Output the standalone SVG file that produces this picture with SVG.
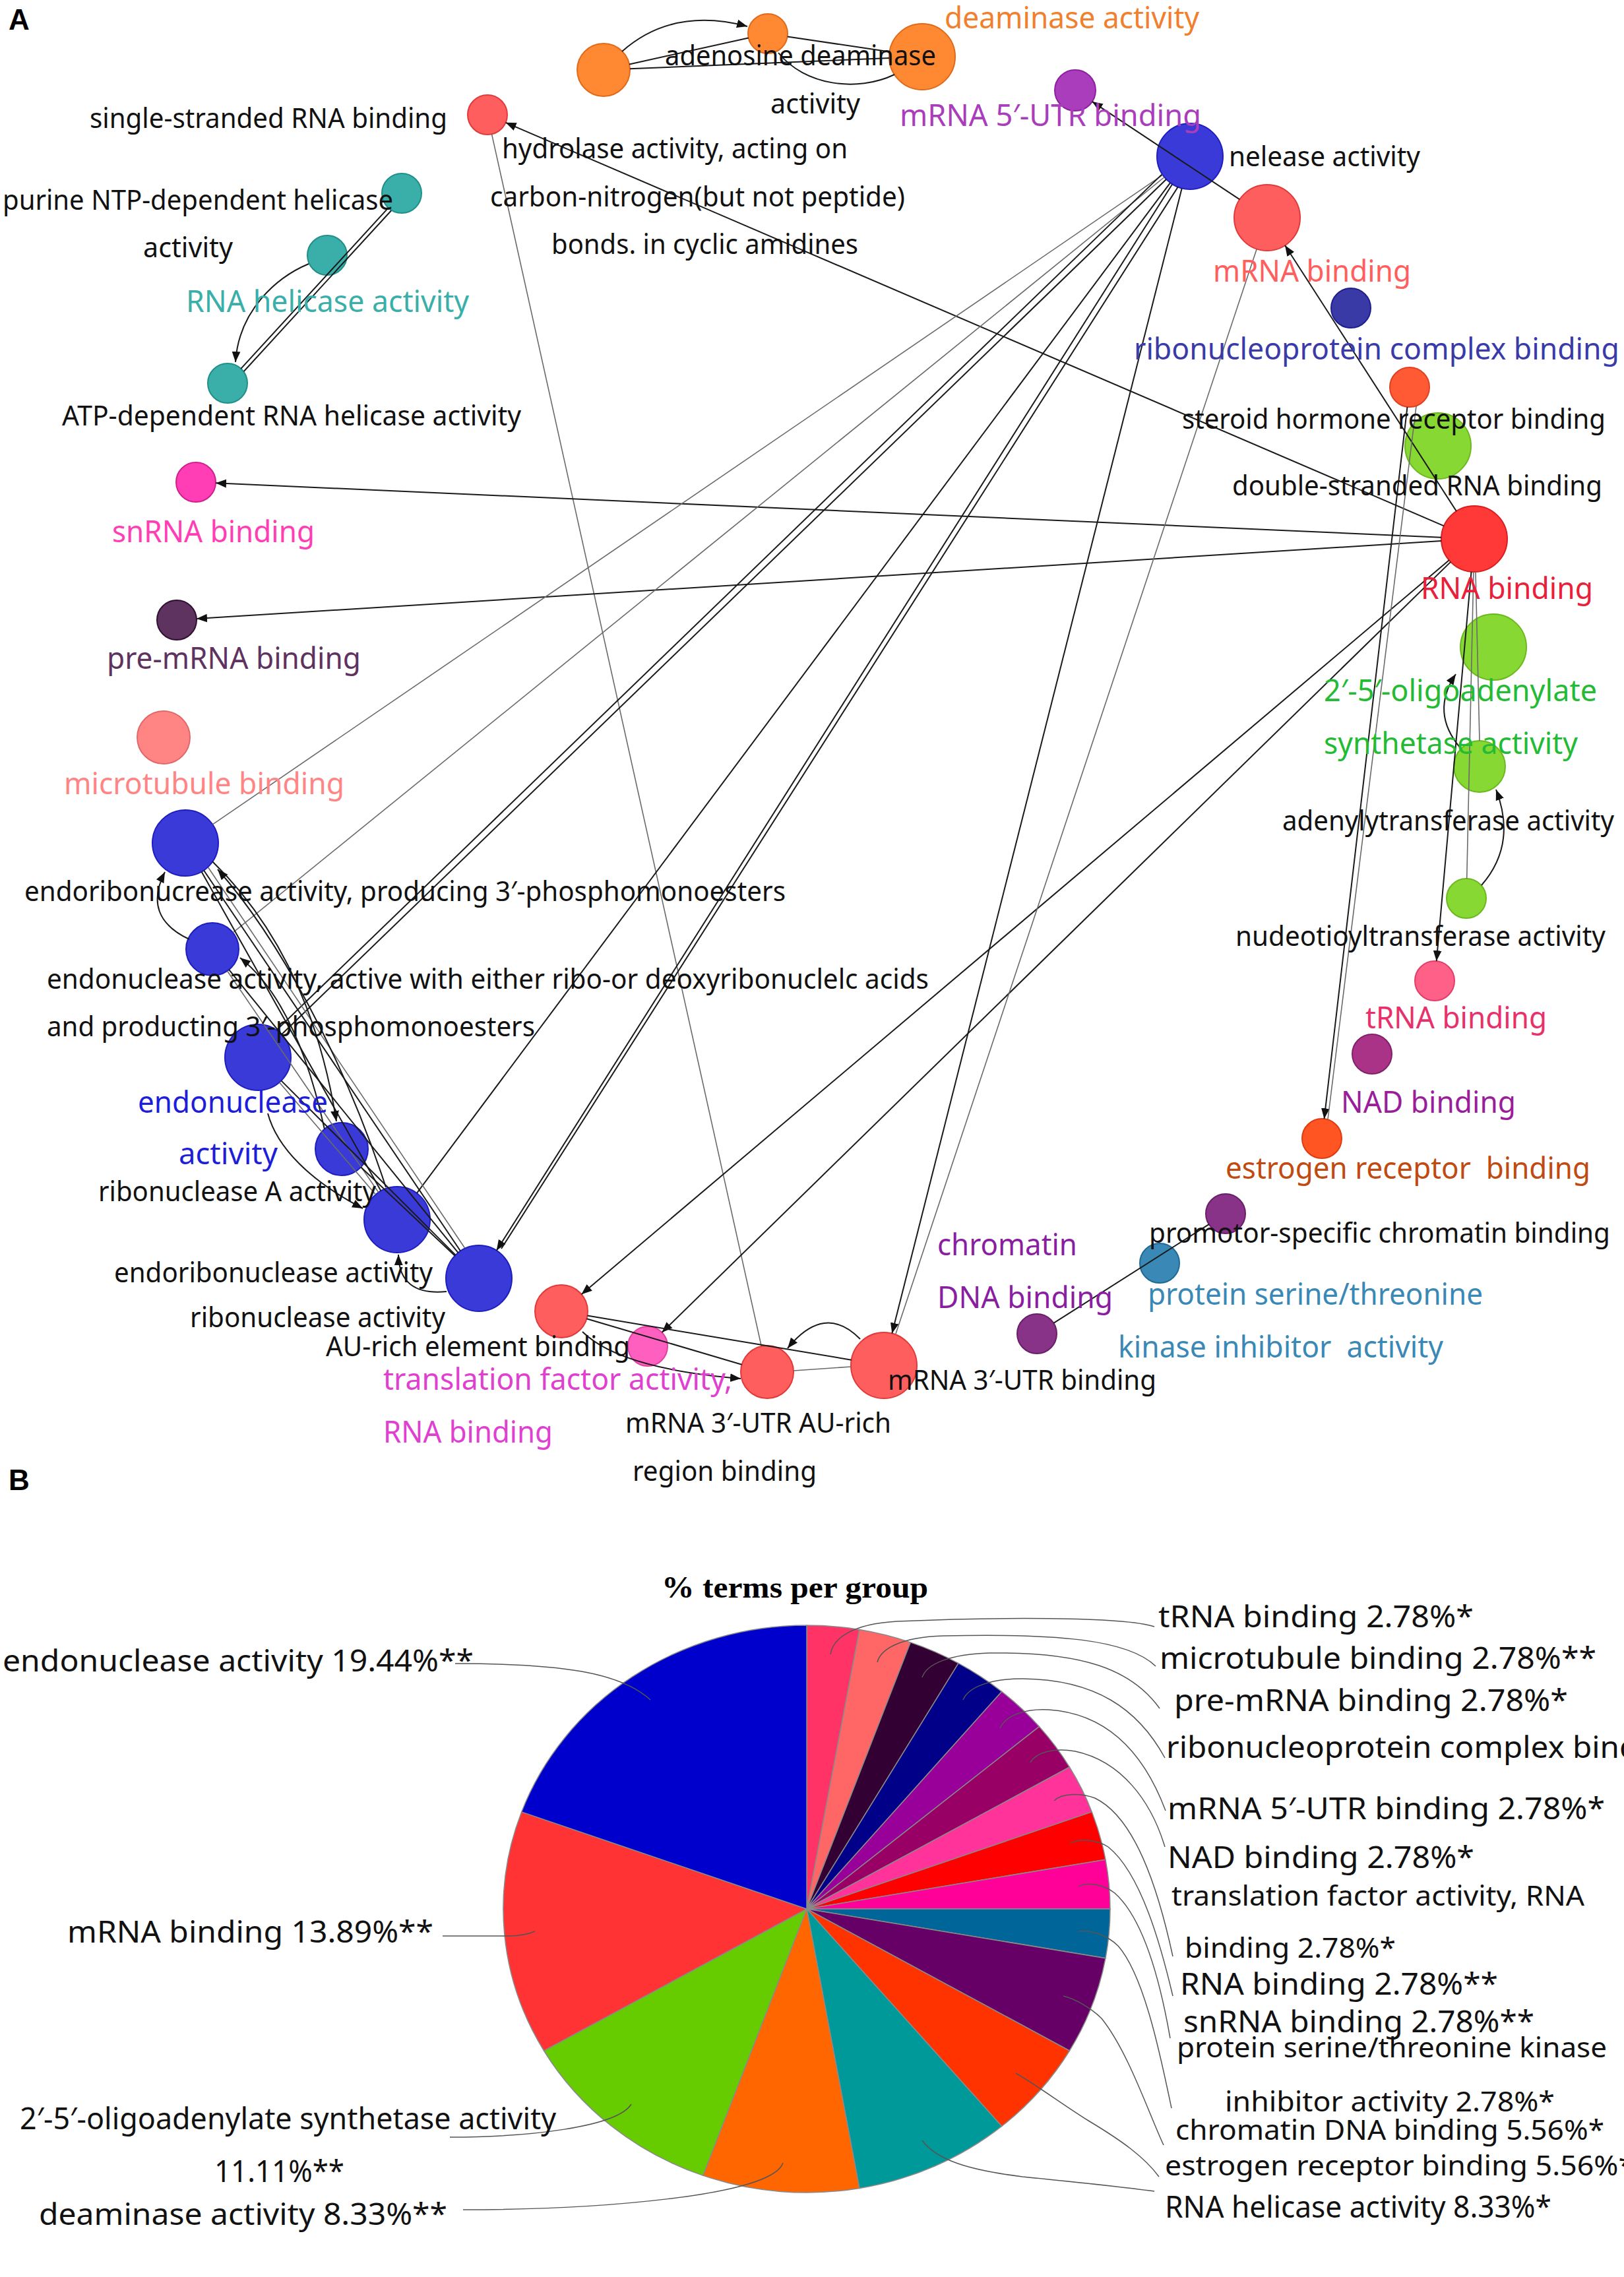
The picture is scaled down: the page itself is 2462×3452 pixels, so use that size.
<svg xmlns="http://www.w3.org/2000/svg" width="2462" height="3452" viewBox="0 0 2462 3452">
<style>
text{font-family:"Noto Sans","Open Sans","Liberation Sans",sans-serif}
.lb{font-size:41px;fill:#111}
.cl{font-size:45px}
.pl{font-size:46px;fill:#111}
.ps{font-size:42px;fill:#111}
.hd{font-family:"Liberation Sans",Arial,sans-serif;font-weight:bold;font-size:44px;fill:#000}
.tt{font-family:"Liberation Serif","Times New Roman",serif;font-weight:bold;font-size:46px;fill:#000}
.e{stroke:#1a1a1a;stroke-width:2;fill:none}
.t{stroke:#6a6a6a;stroke-width:1.6;fill:none}
.ld{stroke:#555;stroke-width:1.5;fill:none}
.sl{stroke:#8a8a8a;stroke-width:1.5}
circle{stroke-width:2}
.red{fill:#FF5E5E;stroke:#E03A3A}
.teal{fill:#3AAFA9;stroke:#1F8F88}
.org{fill:#FF8833;stroke:#E06A1A}
.blu{fill:#3A3AD8;stroke:#1E1EC0}
.grn{fill:#88D833;stroke:#6CB820}
</style>
<defs>
<marker id="ah" viewBox="0 0 10 10" refX="10" refY="5" markerWidth="16" markerHeight="16" markerUnits="userSpaceOnUse" orient="auto"><path d="M0,1 L10,5 L0,9 z" fill="#111"/></marker>
</defs>
<rect width="2462" height="3452" fill="#fff"/>
<text class="hd" x="13" y="45">A</text>
<text class="hd" x="13" y="2259">B</text>

<g id="nodes">
<g id="n-ss"><circle class="red" cx="739" cy="174" r="30"/></g>
<g id="n-purine"><circle class="teal" cx="609" cy="293" r="30"/></g>
<g id="n-helicase"><circle class="teal" cx="496" cy="387" r="30"/></g>
<g id="n-atp"><circle class="teal" cx="345" cy="581" r="30"/></g>
<g id="n-snrna"><circle cx="297" cy="731" r="30" fill="#FF3DB4" stroke="#D0208E"/></g>
<g id="n-premrna"><circle cx="268" cy="940" r="30" fill="#5E3360" stroke="#301030"/></g>
<g id="n-microtubule"><circle cx="248" cy="1118" r="40" fill="#FF8585" stroke="#E06868"/></g>
<g id="n-adL"><circle class="org" cx="915" cy="106" r="40"/></g>
<g id="n-adS"><circle class="org" cx="1164" cy="51" r="30"/></g>
<g id="n-adR"><circle class="org" cx="1398" cy="86" r="50"/></g>
<g id="n-5utr"><circle cx="1630" cy="137" r="31" fill="#AA3DBB" stroke="#8E1FA0"/></g>
<g id="n-nuclease"><circle class="blu" cx="1804" cy="237" r="50"/></g>
<g id="n-mrna"><circle class="red" cx="1921" cy="330" r="50"/></g>
<g id="n-rnp"><circle cx="2048" cy="467" r="30" fill="#3A3AA6" stroke="#1E1E90"/></g>
<g id="n-steroid"><circle cx="2137" cy="587" r="30" fill="#FF5A33" stroke="#E04020"/></g>
<g id="n-dsrna"><circle class="grn" cx="2180" cy="676" r="50"/></g>
<g id="n-rna"><circle cx="2235" cy="817" r="50" fill="#FF3838" stroke="#D81E1E"/></g>
<g id="n-oas"><circle class="grn" cx="2264" cy="981" r="50"/></g>
<g id="n-adenylyl"><circle class="grn" cx="2243" cy="1162" r="39"/></g>
<g id="n-nucleotidyl"><circle class="grn" cx="2223" cy="1362" r="30"/></g>
<g id="n-trna"><circle cx="2175" cy="1487" r="30" fill="#FF6088" stroke="#E04068"/></g>
<g id="n-nad"><circle cx="2080" cy="1598" r="30" fill="#AA3388" stroke="#80206A"/></g>
<g id="n-estrogen"><circle cx="2004" cy="1726" r="30" fill="#FF5522" stroke="#E03A10"/></g>
<g id="n-promotor"><circle cx="1858" cy="1840" r="30" fill="#883388" stroke="#6A1E6A"/></g>
<g id="n-pserine"><circle cx="1758" cy="1915" r="30" fill="#3A88B5" stroke="#1E6A95"/></g>
<g id="n-chromatin"><circle cx="1572" cy="2022" r="30" fill="#883388" stroke="#6A1E6A"/></g>
<g id="n-endoribo3"><circle class="blu" cx="281" cy="1278" r="50"/></g>
<g id="n-endonuc-active"><circle class="blu" cx="322" cy="1439" r="40"/></g>
<g id="n-endonuclease"><circle class="blu" cx="391" cy="1603" r="50"/></g>
<g id="n-ribA"><circle class="blu" cx="518" cy="1742" r="40"/></g>
<g id="n-endoribo"><circle class="blu" cx="602" cy="1849" r="50"/></g>
<g id="n-ribonuclease"><circle class="blu" cx="726" cy="1938" r="50"/></g>
<g id="n-aurich"><circle class="red" cx="851" cy="1988" r="40"/></g>
<g id="n-translation"><circle cx="982" cy="2041" r="30" fill="#FF60C0" stroke="#E040A0"/></g>
<g id="n-3utr-au"><circle class="red" cx="1163" cy="2080" r="40"/></g>
<g id="n-3utr"><circle class="red" cx="1340" cy="2070" r="50"/></g>
</g>

<g id="connectors">
<path class="e" d="M588.7,315.1 L365.3,558.9"/>
<path class="e" d="M593.1,319.2 L369.7,563"/>
<path class="e" d="M468,400 C420,420 362,470 357,549" marker-end="url(#ah)"/>
<path class="e" d="M954,97.4 L1134.7,57.5"/>
<path class="e" d="M943,78 Q1020,10 1133,40" marker-end="url(#ah)"/>
<path class="e" d="M955,104.3 L1348,88.1"/>
<path class="e" d="M1193.7,55.4 L1348.6,78.6"/>
<path class="e" d="M1356,113 C1300,140 1220,130 1180,80"/>
<path class="t" d="M745.5,203.3 L1154.3,2041"/>
<path class="e" d="M2189.1,797.3 L766.6,185.8" marker-end="url(#ah)"/>
<path class="e" d="M2185,814.8 L327,732.3" marker-end="url(#ah)"/>
<path class="e" d="M2185.1,820.1 L298,938.1" marker-end="url(#ah)"/>
<path class="e" d="M2207.9,775 L1948.1,372" marker-end="url(#ah)"/>
<path class="e" d="M1879.3,302.4 L1655.8,154.1" marker-end="url(#ah)"/>
<path class="e" d="M2196.8,849.3 L881.5,1962.2" marker-end="url(#ah)"/>
<path class="e" d="M2199.2,851.9 L1003.5,2020" marker-end="url(#ah)"/>
<path class="e" d="M1791.7,285.5 L1352.3,2021.5" marker-end="url(#ah)"/>
<path class="t" d="M1905.2,377.4 L1358,2022"/>
<path class="e" d="M2133.5,616.8 L2007.5,1696.2" marker-end="url(#ah)"/>
<path class="t" d="M2147,616 L2013,1697"/>
<path class="e" d="M2230.5,866.8 L2177.7,1457.1" marker-end="url(#ah)"/>
<path class="t" d="M2237,867 L2243,1123"/>
<path class="t" d="M2223.7,1332 L2233.9,867"/>
<path class="e" d="M2214,1134 Q2168,1080 2207,1022" marker-end="url(#ah)"/>
<path class="e" d="M2246,1342 Q2300,1280 2268,1197" marker-end="url(#ah)"/>
<path class="e" d="M1597.3,2005.9 L1832.7,1856.1"/>
<path class="t" d="M1762.7,265.2 L322.3,1249.8"/>
<path class="t" d="M1765.2,268.5 L353.1,1413.8"/>
<path class="e" d="M1774.1,277.1 L631.9,1808.9"/>
<path class="e" d="M1777.2,279.2 L752.8,1895.8" marker-end="url(#ah)"/>
<path class="e" d="M1786,283 L760,1893"/>
<path class="e" d="M1768.1,271.8 L426.9,1568.3"/>
<path class="e" d="M1761.2,264.6 L420,1561"/>
<path class="e" d="M309,1319.5 L698,1896.5"/>
<path class="t" d="M315.6,1315 L704.6,1892"/>
<path class="e" d="M305.5,1321.6 L577.5,1805.4"/>
<path class="e" d="M347.2,1470.1 L694.5,1899.1"/>
<path class="t" d="M344.6,1472 L573.8,1807.7"/>
<path class="e" d="M426.4,1638.4 L690.6,1902.6"/>
<path class="t" d="M423.6,1641 L569.5,1811"/>
<path class="e" d="M547.1,1769.4 L689.6,1903.7"/>
<path class="e" d="M287,1424 Q215,1390 250,1322" marker-end="url(#ah)"/>
<path class="e" d="M322,1306 Q470,1450 510,1700" marker-end="url(#ah)"/>
<path class="e" d="M492,1712 Q450,1520 364,1452" marker-end="url(#ah)"/>
<path class="e" d="M406,1688 C420,1740 470,1790 550,1832" marker-end="url(#ah)"/>
<path class="e" d="M677,1958 Q605,1965 604,1902" marker-end="url(#ah)"/>
<path class="e" d="M585,1800 C520,1600 420,1420 330,1318" marker-end="url(#ah)"/>
<path class="e" d="M890.5,1994.6 L1290.7,2061.7"/>
<path class="e" d="M889.4,1999.3 L1124.6,2068.7"/>
<path class="e" d="M883,2019 Q940,2075 1123,2090" marker-end="url(#ah)"/>
<path class="t" d="M1203,2078 L1290,2072"/>
<path class="e" d="M1304,2030 Q1250,1975 1194,2044" marker-end="url(#ah)"/>
</g>

<g id="labels">
<text class="lb" x="136" y="194" textLength="542" lengthAdjust="spacingAndGlyphs">single-stranded RNA binding</text>
<text class="lb" x="4" y="318" textLength="592" lengthAdjust="spacingAndGlyphs">purine NTP-dependent helicase</text>
<text class="lb" x="217" y="390" textLength="136" lengthAdjust="spacingAndGlyphs">activity</text>
<text class="cl" fill="#3AAFA9" x="282" y="473" textLength="429" lengthAdjust="spacingAndGlyphs">RNA helicase activity</text>
<text class="lb" x="94" y="645" textLength="696" lengthAdjust="spacingAndGlyphs">ATP-dependent RNA helicase activity</text>
<text class="cl" fill="#FF3DB4" x="170" y="822" textLength="307" lengthAdjust="spacingAndGlyphs">snRNA binding</text>
<text class="cl" fill="#5E3360" x="162" y="1014" textLength="385" lengthAdjust="spacingAndGlyphs">pre-mRNA binding</text>
<text class="cl" fill="#FF8585" x="97" y="1204" textLength="425" lengthAdjust="spacingAndGlyphs">microtubule binding</text>
<text class="lb" x="1008" y="99" textLength="411" lengthAdjust="spacingAndGlyphs">adenosine deaminase</text>
<text class="lb" x="1168" y="172" textLength="136" lengthAdjust="spacingAndGlyphs">activity</text>
<text class="cl" fill="#F0802E" x="1432" y="43" textLength="386" lengthAdjust="spacingAndGlyphs">deaminase activity</text>
<text class="lb" x="761" y="240" textLength="524" lengthAdjust="spacingAndGlyphs">hydrolase activity, acting on</text>
<text class="lb" x="743" y="313" textLength="629" lengthAdjust="spacingAndGlyphs">carbon-nitrogen(but not peptide)</text>
<text class="lb" x="836" y="385" textLength="465" lengthAdjust="spacingAndGlyphs">bonds. in cyclic amidines</text>
<text class="cl" fill="#AA3DBB" x="1364" y="191" textLength="457" lengthAdjust="spacingAndGlyphs">mRNA 5′-UTR binding</text>
<text class="lb" x="1863" y="252" textLength="290" lengthAdjust="spacingAndGlyphs">nelease activity</text>
<text class="cl" fill="#FF5E5E" x="1839" y="427" textLength="300" lengthAdjust="spacingAndGlyphs">mRNA binding</text>
<text class="cl" fill="#3A3AA8" x="1719" y="545" textLength="736" lengthAdjust="spacingAndGlyphs">ribonucleoprotein complex binding</text>
<text class="lb" x="1792" y="650" textLength="642" lengthAdjust="spacingAndGlyphs">steroid hormone receptor binding</text>
<text class="lb" x="1868" y="751" textLength="561" lengthAdjust="spacingAndGlyphs">double-stranded RNA binding</text>
<text class="cl" fill="#E8203A" x="2154" y="908" textLength="261" lengthAdjust="spacingAndGlyphs">RNA binding</text>
<text class="cl" fill="#22BB33" x="2007" y="1063" textLength="414" lengthAdjust="spacingAndGlyphs">2′-5′-oligoadenylate</text>
<text class="cl" fill="#22BB33" x="2007" y="1143" textLength="385" lengthAdjust="spacingAndGlyphs">synthetase activity</text>
<text class="lb" x="1944" y="1259" textLength="503" lengthAdjust="spacingAndGlyphs">adenylytransferase activity</text>
<text class="lb" x="1873" y="1434" textLength="561" lengthAdjust="spacingAndGlyphs">nudeotioyltransferase activity</text>
<text class="cl" fill="#E8306A" x="2070" y="1559" textLength="275" lengthAdjust="spacingAndGlyphs">tRNA binding</text>
<text class="cl" fill="#9A1E9A" x="2033" y="1687" textLength="265" lengthAdjust="spacingAndGlyphs">NAD binding</text>
<text class="cl" fill="#C04A10" x="1858" y="1787" textLength="553" lengthAdjust="spacingAndGlyphs">estrogen receptor&#160; binding</text>
<text class="lb" x="1742" y="1884" textLength="699" lengthAdjust="spacingAndGlyphs">promotor-specific chromatin binding</text>
<text class="cl" fill="#3A88B5" x="1740" y="1978" textLength="508" lengthAdjust="spacingAndGlyphs">protein serine/threonine</text>
<text class="cl" fill="#3A88B5" x="1695" y="2058" textLength="493" lengthAdjust="spacingAndGlyphs">kinase inhibitor&#160; activity</text>
<text class="cl" fill="#8A1EA0" x="1421" y="1903" textLength="212" lengthAdjust="spacingAndGlyphs">chromatin</text>
<text class="cl" fill="#8A1EA0" x="1421" y="1983" textLength="266" lengthAdjust="spacingAndGlyphs">DNA binding</text>
<text class="lb" x="37" y="1366" textLength="1154" lengthAdjust="spacingAndGlyphs">endoribonucrease activity, producing 3′-phosphomonoesters</text>
<text class="lb" x="71" y="1499" textLength="1337" lengthAdjust="spacingAndGlyphs">endonuclease activity, active with either ribo-or deoxyribonuclelc acids</text>
<text class="lb" x="71" y="1571" textLength="740" lengthAdjust="spacingAndGlyphs">and producting 3′-phosphomonoesters</text>
<text class="cl" fill="#1E1ED8" x="209" y="1687" textLength="288" lengthAdjust="spacingAndGlyphs">endonuclease</text>
<text class="cl" fill="#1E1ED8" x="271" y="1765" textLength="150" lengthAdjust="spacingAndGlyphs">activity</text>
<text class="lb" x="149" y="1821" textLength="421" lengthAdjust="spacingAndGlyphs">ribonuclease A activity</text>
<text class="lb" x="173" y="1944" textLength="483" lengthAdjust="spacingAndGlyphs">endoribonuclease activity</text>
<text class="lb" x="288" y="2012" textLength="387" lengthAdjust="spacingAndGlyphs">ribonuclease activity</text>
<text class="lb" x="494" y="2056" textLength="461" lengthAdjust="spacingAndGlyphs">AU-rich element binding</text>
<text class="cl" fill="#E040D0" x="581" y="2107" textLength="529" lengthAdjust="spacingAndGlyphs">translation factor activity,</text>
<text class="cl" fill="#E040D0" x="581" y="2187" textLength="257" lengthAdjust="spacingAndGlyphs">RNA binding</text>
<text class="lb" x="948" y="2172" textLength="403" lengthAdjust="spacingAndGlyphs">mRNA 3′-UTR AU-rich</text>
<text class="lb" x="959" y="2245" textLength="279" lengthAdjust="spacingAndGlyphs">region binding</text>
<text class="lb" x="1346" y="2107" textLength="407" lengthAdjust="spacingAndGlyphs">mRNA 3′-UTR binding</text>
</g>

<g id="pie">
<text class="tt" x="1003" y="2422" textLength="404" lengthAdjust="spacingAndGlyphs">% terms per group</text>
<g id="slices" class="sl">
<path fill="#FF3366" d="M1223,2894 L1223,2464 A460,430 0 0 1 1302.9,2470.5 Z"/>
<path fill="#FF6666" d="M1223,2894 L1302.9,2470.5 A460,430 0 0 1 1380.3,2489.9 Z"/>
<path fill="#330033" d="M1223,2894 L1380.3,2489.9 A460,430 0 0 1 1453,2521.6 Z"/>
<path fill="#000088" d="M1223,2894 L1453,2521.6 A460,430 0 0 1 1518.7,2564.6 Z"/>
<path fill="#990099" d="M1223,2894 L1518.7,2564.6 A460,430 0 0 1 1575.4,2617.6 Z"/>
<path fill="#990066" d="M1223,2894 L1575.4,2617.6 A460,430 0 0 1 1621.4,2679 Z"/>
<path fill="#FF3399" d="M1223,2894 L1621.4,2679 A460,430 0 0 1 1655.3,2746.9 Z"/>
<path fill="#FF0000" d="M1223,2894 L1655.3,2746.9 A460,430 0 0 1 1676,2819.3 Z"/>
<path fill="#FF0099" d="M1223,2894 L1676,2819.3 A460,430 0 0 1 1683,2894 Z"/>
<path fill="#006699" d="M1223,2894 L1683,2894 A460,430 0 0 1 1676,2968.7 Z"/>
<path fill="#660066" d="M1223,2894 L1676,2968.7 A460,430 0 0 1 1621.4,3109 Z"/>
<path fill="#FF3300" d="M1223,2894 L1621.4,3109 A460,430 0 0 1 1518.7,3223.4 Z"/>
<path fill="#009999" d="M1223,2894 L1518.7,3223.4 A460,430 0 0 1 1302.9,3317.5 Z"/>
<path fill="#FF6600" d="M1223,2894 L1302.9,3317.5 A460,430 0 0 1 1065.7,3298.1 Z"/>
<path fill="#66CC00" d="M1223,2894 L1065.7,3298.1 A460,430 0 0 1 824.6,3109 Z"/>
<path fill="#FF3333" d="M1223,2894 L824.6,3109 A460,430 0 0 1 790.7,2746.9 Z"/>
<path fill="#0000CC" d="M1223,2894 L790.7,2746.9 A460,430 0 0 1 1223,2464 Z"/>
</g>
<g id="leaders">
<path class="ld" d="M690,2522 C850,2522 940,2535 986,2577"/>
<path class="ld" d="M671,2935 L770,2935 Q795,2935 811,2928"/>
<path class="ld" d="M682,3240 C800,3240 935,3225 957,3190"/>
<path class="ld" d="M702,3350 C900,3350 1170,3330 1187,3279"/>
<path class="ld" d="M1259,2508 C1262,2485 1290,2462 1360,2458 C1500,2452 1700,2450 1750,2466"/>
<path class="ld" d="M1330,2520 C1335,2500 1365,2482 1430,2480 C1600,2476 1710,2485 1752,2526"/>
<path class="ld" d="M1398,2543 C1405,2522 1440,2508 1500,2506 C1640,2504 1715,2530 1758,2590"/>
<path class="ld" d="M1460,2577 C1468,2558 1500,2545 1550,2545 C1660,2546 1725,2590 1766,2665"/>
<path class="ld" d="M1516,2620 C1525,2600 1555,2590 1590,2592 C1680,2598 1735,2660 1767,2745"/>
<path class="ld" d="M1562,2672 C1572,2655 1600,2650 1630,2655 C1700,2670 1745,2730 1766,2800"/>
<path class="ld" d="M1598,2730 C1610,2718 1640,2718 1660,2726 C1720,2755 1755,2860 1778,2966"/>
<path class="ld" d="M1623,2794 C1640,2786 1665,2790 1680,2800 C1730,2840 1760,2950 1778,3026"/>
<path class="ld" d="M1635,2860 C1650,2852 1675,2858 1690,2870 C1735,2910 1760,3010 1774,3090"/>
<path class="ld" d="M1635,2928 C1655,2925 1680,2935 1695,2950 C1735,2995 1760,3120 1776,3196"/>
<path class="ld" d="M1612,3026 C1630,3030 1655,3045 1670,3060 C1710,3110 1740,3200 1764,3252"/>
<path class="ld" d="M1540,3143 C1570,3160 1610,3190 1650,3215 C1700,3245 1735,3270 1757,3300"/>
<path class="ld" d="M1398,3245 C1420,3275 1470,3290 1550,3300 C1650,3310 1720,3318 1750,3322"/>
</g>
<g id="pie-labels">
<text class="pl" x="4" y="2534" textLength="714" lengthAdjust="spacingAndGlyphs">endonuclease activity 19.44%**</text>
<text class="pl" x="102" y="2945" textLength="555" lengthAdjust="spacingAndGlyphs">mRNA binding 13.89%**</text>
<text class="pl" x="30" y="3228" textLength="813" lengthAdjust="spacingAndGlyphs">2′-5′-oligoadenylate synthetase activity</text>
<text class="pl" x="325" y="3308" textLength="197" lengthAdjust="spacingAndGlyphs">11.11%**</text>
<text class="pl" x="59" y="3373" textLength="619" lengthAdjust="spacingAndGlyphs">deaminase activity 8.33%**</text>
<text class="pl" x="1756" y="2467" textLength="478" lengthAdjust="spacingAndGlyphs">tRNA binding 2.78%*</text>
<text class="pl" x="1758" y="2530" textLength="662" lengthAdjust="spacingAndGlyphs">microtubule binding 2.78%**</text>
<text class="pl" x="1780" y="2594" textLength="597" lengthAdjust="spacingAndGlyphs">pre-mRNA binding 2.78%*</text>
<text class="pl" x="1768" y="2665" textLength="960" lengthAdjust="spacingAndGlyphs">ribonucleoprotein complex binding 2.78%*</text>
<text class="pl" x="1770" y="2758" textLength="663" lengthAdjust="spacingAndGlyphs">mRNA 5′-UTR binding 2.78%*</text>
<text class="pl" x="1770" y="2832" textLength="465" lengthAdjust="spacingAndGlyphs">NAD binding 2.78%*</text>
<text class="ps" x="1776" y="2889" textLength="626" lengthAdjust="spacingAndGlyphs">translation factor activity, RNA</text>
<text class="ps" x="1796" y="2968" textLength="320" lengthAdjust="spacingAndGlyphs">binding 2.78%*</text>
<text class="pl" x="1789" y="3024" textLength="482" lengthAdjust="spacingAndGlyphs">RNA binding 2.78%**</text>
<text class="pl" x="1794" y="3081" textLength="532" lengthAdjust="spacingAndGlyphs">snRNA binding 2.78%**</text>
<text class="ps" x="1784" y="3119" textLength="652" lengthAdjust="spacingAndGlyphs">protein serine/threonine kinase</text>
<text class="ps" x="1857" y="3201" textLength="500" lengthAdjust="spacingAndGlyphs">inhibitor activity 2.78%*</text>
<text class="ps" x="1782" y="3244" textLength="650" lengthAdjust="spacingAndGlyphs">chromatin DNA binding 5.56%*</text>
<text class="ps" x="1766" y="3298" textLength="712" lengthAdjust="spacingAndGlyphs">estrogen receptor binding 5.56%*</text>
<text class="pl" x="1766" y="3362" textLength="586" lengthAdjust="spacingAndGlyphs">RNA helicase activity 8.33%*</text>
</g>
</g>
</svg>
